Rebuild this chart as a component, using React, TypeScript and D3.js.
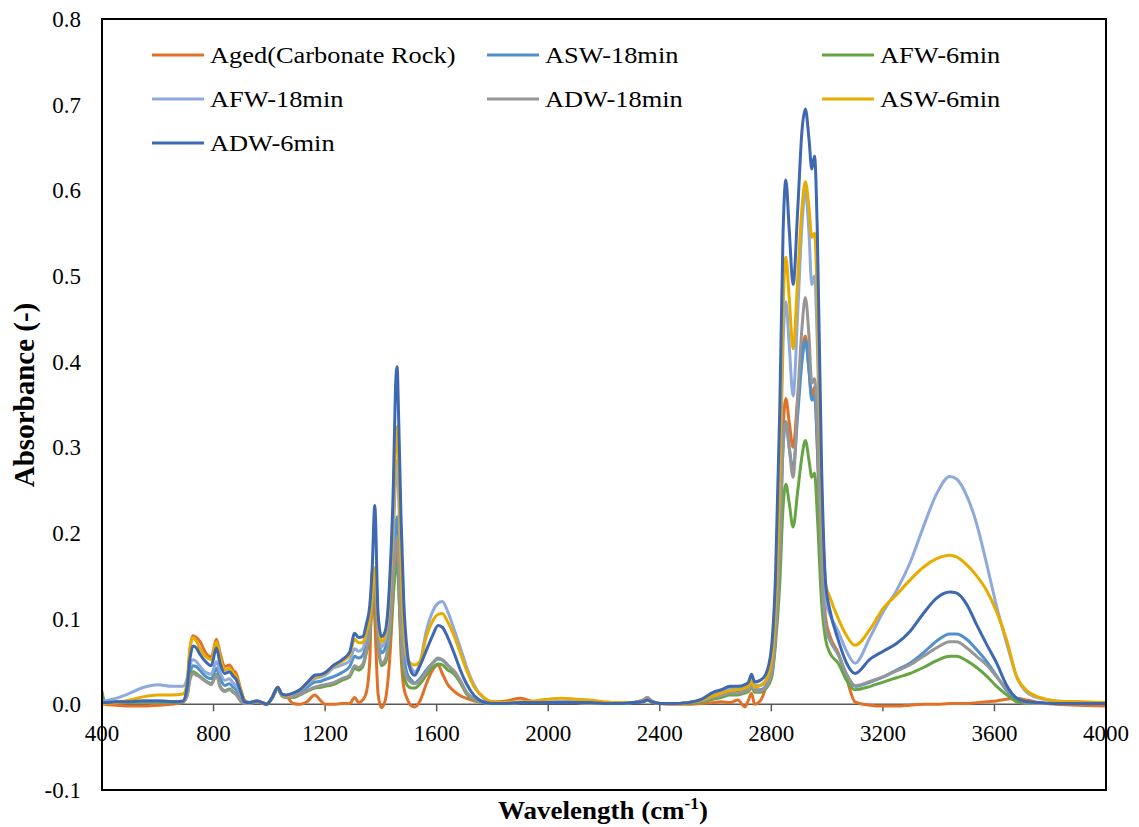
import React from "react";
import * as d3 from "d3";

const wavenumbers = [
  400, 410, 450, 500, 550, 600, 650, 690, 705, 715,
  726, 738, 750, 774, 792, 810, 824, 840, 857, 870,
  881, 899, 911, 930, 955, 975, 990, 1010, 1030, 1045,
  1060, 1085, 1110, 1135, 1163, 1185, 1200, 1228, 1260, 1288,
  1306, 1320, 1335, 1348, 1360, 1369, 1378, 1390, 1402, 1415,
  1431, 1445, 1452, 1458, 1464, 1472, 1482, 1495, 1510, 1521,
  1540, 1563, 1585, 1605, 1620, 1640, 1660, 1685, 1707, 1735,
  1766, 1800, 1850, 1900, 1950, 2000, 2050, 2100, 2150, 2200,
  2250, 2300, 2340, 2355, 2370, 2400, 2450, 2500, 2550, 2591,
  2620, 2652, 2680, 2705, 2718, 2729, 2740, 2760, 2780, 2800,
  2815, 2830, 2842, 2852, 2864, 2878, 2895, 2910, 2922, 2935,
  2945, 2955, 2965, 2980, 2995, 3010, 3040, 3070, 3100, 3155,
  3201, 3249, 3297, 3345, 3393, 3440, 3464, 3500, 3536, 3572,
  3608, 3644, 3680, 3716, 3763, 3820, 3900, 4000,
];

const agedCarbonate = [
  0.001, 0.0, -0.001, -0.002, -0.002, -0.001, 0.0, 0.002, 0.02, 0.063,
  0.08, 0.078, 0.074, 0.059, 0.055, 0.076, 0.059, 0.044, 0.046, 0.04,
  0.036, 0.016, 0.005, 0.001, 0.003, 0.001, 0.0, 0.008, 0.02, 0.012,
  0.01, 0.001, 0.0, 0.003, 0.011, 0.004, 0.0, 0.0, 0.001, 0.001,
  0.008, 0.002, 0.005, 0.014, 0.05, 0.155, 0.1, 0.012, -0.004, 0.004,
  0.05, 0.13, 0.17, 0.18, 0.14, 0.06, 0.02, 0.006, -0.002, -0.003,
  0.004, 0.024, 0.04, 0.046, 0.036, 0.023, 0.016, 0.01, 0.007, 0.004,
  0.003, 0.003, 0.004, 0.007, 0.003, 0.002, 0.003, 0.003, 0.002, 0.001,
  0.001, 0.002, 0.005, 0.008, 0.004, 0.001, 0.0, 0.0, 0.001, 0.002,
  0.003, 0.002, 0.005, -0.003, 0.005, 0.013, 0.0, 0.004, 0.02, 0.05,
  0.09, 0.2, 0.32, 0.357, 0.33, 0.3, 0.36, 0.41, 0.43, 0.39,
  0.36, 0.37, 0.3, 0.16, 0.1, 0.08, 0.06, 0.03, 0.003, -0.001,
  -0.002, -0.002, -0.001, 0.0, 0.0, 0.001, 0.001, 0.001, 0.002, 0.003,
  0.004, 0.006, 0.007, 0.005, 0.002, 0.0, -0.001, -0.002,
];

const asw18 = [
  0.002, 0.002, 0.003, 0.003, 0.004, 0.004, 0.003, 0.003, 0.012, 0.035,
  0.045, 0.044, 0.04, 0.032, 0.03, 0.042, 0.03, 0.022, 0.024, 0.02,
  0.017, 0.007, 0.002, 0.002, 0.004, 0.002, 0.0, 0.008, 0.019, 0.011,
  0.009, 0.011, 0.014, 0.02, 0.026, 0.027, 0.029, 0.032, 0.037, 0.044,
  0.056, 0.054, 0.057, 0.071, 0.09, 0.125, 0.15, 0.085, 0.06, 0.065,
  0.1, 0.165, 0.205, 0.219, 0.18, 0.11, 0.06, 0.035, 0.028, 0.025,
  0.03, 0.04, 0.048, 0.053, 0.052, 0.046, 0.038, 0.026, 0.014, 0.006,
  0.002, 0.001, 0.001, 0.002, 0.002, 0.002, 0.002, 0.002, 0.001, 0.001,
  0.001, 0.002, 0.004, 0.007, 0.004, 0.001, 0.001, 0.002, 0.004, 0.009,
  0.011, 0.014, 0.014, 0.016, 0.018, 0.024, 0.017, 0.017, 0.021, 0.032,
  0.08, 0.18, 0.3, 0.33, 0.3, 0.275, 0.34, 0.4, 0.425, 0.39,
  0.355, 0.36, 0.3, 0.15, 0.09, 0.075, 0.058, 0.035, 0.021, 0.026,
  0.032, 0.04, 0.048, 0.06, 0.074, 0.082, 0.082, 0.076, 0.064, 0.05,
  0.033, 0.016, 0.005, 0.002, 0.001, 0.001, 0.001, 0.001,
];

const afw6 = [
  0.015, 0.003, 0.002, 0.002, 0.002, 0.002, 0.002, 0.003, 0.01, 0.03,
  0.038, 0.036, 0.033, 0.027, 0.024, 0.035, 0.021, 0.016, 0.018, 0.015,
  0.012, 0.004, 0.001, 0.001, 0.003, 0.002, 0.0, 0.007, 0.018, 0.01,
  0.008, 0.008, 0.011, 0.015, 0.019, 0.02, 0.021, 0.023, 0.028, 0.032,
  0.042, 0.04, 0.044, 0.06, 0.08, 0.115, 0.14, 0.07, 0.045, 0.048,
  0.075, 0.13, 0.158, 0.164, 0.135, 0.075, 0.035, 0.022, 0.019, 0.019,
  0.024, 0.034, 0.043, 0.047, 0.046, 0.04, 0.036, 0.025, 0.012, 0.005,
  0.002, 0.001, 0.001, 0.002, 0.002, 0.002, 0.002, 0.002, 0.001, 0.001,
  0.001, 0.002, 0.004, 0.006, 0.003, 0.001, 0.001, 0.001, 0.003, 0.006,
  0.008, 0.011, 0.011, 0.013, 0.015, 0.02, 0.014, 0.014, 0.018, 0.03,
  0.07, 0.14, 0.23, 0.257, 0.235, 0.207, 0.25, 0.29, 0.308, 0.285,
  0.265, 0.27, 0.22, 0.12, 0.075, 0.06, 0.048, 0.028, 0.017, 0.021,
  0.026, 0.031, 0.036, 0.043, 0.051, 0.056, 0.056, 0.051, 0.043, 0.033,
  0.021, 0.011, 0.003, 0.001, 0.001, 0.001, 0.001, 0.001,
];

const afw18 = [
  0.003, 0.004, 0.007, 0.013, 0.02, 0.023, 0.021, 0.021, 0.03, 0.045,
  0.052, 0.05, 0.045, 0.037, 0.035, 0.05, 0.037, 0.028, 0.03, 0.025,
  0.022, 0.01, 0.003, 0.002, 0.004, 0.002, 0.0, 0.008, 0.019, 0.012,
  0.01, 0.012, 0.016, 0.023, 0.03, 0.032, 0.034, 0.042, 0.046, 0.051,
  0.065, 0.062, 0.065, 0.08, 0.1, 0.13, 0.15, 0.09, 0.067, 0.075,
  0.12, 0.2, 0.26, 0.285, 0.24, 0.15, 0.08, 0.05, 0.042, 0.038,
  0.048, 0.086, 0.108, 0.118, 0.12, 0.108, 0.09, 0.066, 0.044, 0.022,
  0.008, 0.002, 0.001, 0.002, 0.002, 0.003, 0.003, 0.003, 0.002, 0.002,
  0.001, 0.002, 0.003, 0.005, 0.003, 0.001, 0.001, 0.002, 0.005, 0.012,
  0.015, 0.019, 0.019, 0.021, 0.023, 0.03, 0.022, 0.022, 0.027, 0.045,
  0.11, 0.25, 0.42, 0.47, 0.42, 0.36, 0.46, 0.56, 0.6, 0.55,
  0.49, 0.5, 0.42, 0.22, 0.12, 0.105, 0.085, 0.062, 0.048, 0.079,
  0.108, 0.133, 0.165, 0.207, 0.246, 0.266, 0.263, 0.244, 0.211, 0.164,
  0.114, 0.071, 0.032, 0.014, 0.007, 0.004, 0.003, 0.001,
];

const adw18 = [
  0.002, 0.002, 0.002, 0.003, 0.003, 0.003, 0.003, 0.003, 0.01, 0.028,
  0.036, 0.034, 0.032, 0.026, 0.023, 0.034, 0.02, 0.015, 0.017, 0.014,
  0.011, 0.003, 0.001, 0.001, 0.003, 0.002, 0.0, 0.007, 0.018, 0.01,
  0.008, 0.009, 0.012, 0.016, 0.02, 0.022, 0.023, 0.025, 0.03, 0.034,
  0.045, 0.043, 0.047, 0.063, 0.085, 0.12, 0.145, 0.075, 0.048, 0.052,
  0.085, 0.15, 0.185, 0.195, 0.16, 0.09, 0.045, 0.03, 0.025, 0.024,
  0.028, 0.038, 0.048, 0.054, 0.052, 0.045, 0.04, 0.028, 0.014, 0.006,
  0.002, 0.001, 0.001, 0.002, 0.002, 0.002, 0.002, 0.002, 0.001, 0.001,
  0.001, 0.002, 0.005, 0.008, 0.004, 0.001, 0.001, 0.002, 0.004, 0.008,
  0.01, 0.013, 0.013, 0.015, 0.017, 0.022, 0.016, 0.016, 0.02, 0.035,
  0.08, 0.18, 0.3, 0.33, 0.3, 0.265, 0.36, 0.44, 0.475, 0.43,
  0.375, 0.38, 0.32, 0.16, 0.09, 0.075, 0.058, 0.035, 0.022, 0.027,
  0.032, 0.039, 0.046, 0.056, 0.066, 0.073, 0.073, 0.066, 0.056, 0.046,
  0.032, 0.018, 0.007, 0.002, 0.001, 0.001, 0.001, 0.001,
];

const asw6 = [
  0.0, 0.001, 0.002, 0.005, 0.009, 0.011, 0.011, 0.012, 0.025, 0.065,
  0.078, 0.074, 0.066, 0.055, 0.052, 0.073, 0.055, 0.04, 0.042, 0.037,
  0.032, 0.015, 0.004, 0.002, 0.004, 0.002, 0.001, 0.008, 0.02, 0.012,
  0.01, 0.013, 0.017, 0.025, 0.032, 0.034, 0.036, 0.044, 0.05, 0.058,
  0.076, 0.072, 0.072, 0.085, 0.1, 0.13, 0.16, 0.1, 0.073, 0.08,
  0.13, 0.23, 0.3, 0.324, 0.27, 0.17, 0.09, 0.055, 0.047, 0.046,
  0.05, 0.079, 0.097, 0.105, 0.106, 0.096, 0.082, 0.06, 0.04, 0.02,
  0.009, 0.003, 0.002, 0.003, 0.004, 0.006, 0.007, 0.006, 0.005, 0.003,
  0.002, 0.002, 0.003, 0.005, 0.003, 0.001, 0.001, 0.002, 0.005, 0.01,
  0.013, 0.016, 0.017, 0.019, 0.021, 0.028, 0.02, 0.022, 0.028, 0.05,
  0.12, 0.27, 0.46, 0.522, 0.475, 0.415, 0.5, 0.58, 0.61, 0.58,
  0.545, 0.55, 0.47, 0.25, 0.14, 0.125, 0.1, 0.08, 0.069, 0.088,
  0.112, 0.128, 0.145, 0.16, 0.17, 0.174, 0.172, 0.163, 0.15, 0.133,
  0.108, 0.075, 0.032, 0.016, 0.008, 0.004, 0.003, 0.002,
];

const adw6 = [
  0.002, 0.002, 0.003, 0.003, 0.004, 0.004, 0.003, 0.004, 0.02, 0.052,
  0.068, 0.066, 0.059, 0.049, 0.045, 0.066, 0.047, 0.036, 0.038, 0.033,
  0.029, 0.013, 0.003, 0.002, 0.004, 0.002, 0.0, 0.008, 0.02, 0.012,
  0.011, 0.013, 0.017, 0.025, 0.034, 0.035, 0.037, 0.045, 0.052, 0.061,
  0.083, 0.078, 0.079, 0.094, 0.115, 0.16, 0.232, 0.105, 0.079, 0.085,
  0.141, 0.26, 0.365, 0.394, 0.33, 0.22, 0.12, 0.06, 0.037, 0.034,
  0.045, 0.063, 0.08, 0.092, 0.09, 0.078, 0.062, 0.04, 0.024, 0.01,
  0.003, 0.001, 0.001, 0.002, 0.002, 0.002, 0.002, 0.002, 0.002, 0.001,
  0.001, 0.002, 0.003, 0.005, 0.003, 0.001, 0.001, 0.002, 0.006, 0.014,
  0.017, 0.021, 0.021, 0.023, 0.026, 0.035, 0.026, 0.028, 0.035, 0.065,
  0.15, 0.34, 0.55, 0.612, 0.555, 0.49, 0.58, 0.67, 0.695, 0.66,
  0.625, 0.64, 0.55, 0.28, 0.14, 0.11, 0.075, 0.048, 0.036, 0.053,
  0.062, 0.071, 0.085, 0.106, 0.124, 0.131, 0.13, 0.117, 0.093, 0.07,
  0.048, 0.022, 0.007, 0.003, 0.002, 0.001, 0.001, 0.001,
];

const seriesNames = [
  "Aged(Carbonate Rock)",
  "ASW-18min",
  "AFW-6min",
  "AFW-18min",
  "ADW-18min",
  "ASW-6min",
  "ADW-6min",
];
const seriesValues = [agedCarbonate, asw18, afw6, afw18, adw18, asw6, adw6];
const seriesColors = [
  "#E07128",
  "#5090CC",
  "#67A544",
  "#8EA9DB",
  "#969696",
  "#E8AC00",
  "#3E68B2",
];

const xTicks = [400, 800, 1200, 1600, 2000, 2400, 2800, 3200, 3600, 4000];
const yTicks = [-0.1, 0, 0.1, 0.2, 0.3, 0.4, 0.5, 0.6, 0.7, 0.8];

const W = 1139;
const H = 827;
const left = 102;
const right = 1106;
const top = 19;
const bottom = 790;

const FONT = "Liberation Serif, Times New Roman, Times, serif";

export default function App() {
  const x = d3.scaleLinear().domain([400, 4000]).range([left, right]);
  const y = d3.scaleLinear().domain([-0.1, 0.8]).range([bottom, top]);
  const line = d3
    .line<number>()
    .x((_, i) => x(wavenumbers[i]))
    .y((d) => y(d))
    .curve(d3.curveMonotoneX);

  const ts = { fontFamily: FONT };
  const legendCols = [152, 487, 822];
  const legendRows = [55, 99, 143];

  return (
    <svg
      width={W}
      height={H}
      style={{ position: "absolute", left: 0, top: 0, background: "#fff", fontFamily: FONT }}
    >
      <rect x={0} y={0} width={W} height={H} fill="#fff" />
      <defs>
        <clipPath id="plot">
          <rect x={left} y={top} width={right - left} height={bottom - top} />
        </clipPath>
      </defs>
      <line x1={left} x2={right} y1={y(0)} y2={y(0)} stroke="#595959" strokeWidth={1.5} />
      {xTicks.map((t) => (
        <line key={t} x1={x(t)} x2={x(t)} y1={y(0)} y2={y(0) + 7} stroke="#595959" strokeWidth={1.5} />
      ))}
      <g clipPath="url(#plot)">
        {seriesValues.map((vals, i) => (
          <path
            key={seriesNames[i]}
            d={line(vals) || ""}
            fill="none"
            stroke={seriesColors[i]}
            strokeWidth={3}
            strokeLinejoin="round"
            strokeLinecap="round"
          />
        ))}
      </g>
      <rect x={left} y={top} width={right - left} height={bottom - top} fill="none" stroke="#000" strokeWidth={2} />
      {xTicks.map((t) => (
        <text key={t} x={x(t)} y={741} textAnchor="middle" fontSize={23} fill="#000" style={ts}>
          {t}
        </text>
      ))}
      {yTicks.map((t) => (
        <text key={t} x={81} y={y(t) + 8} textAnchor="end" fontSize={23} fill="#000" style={ts}>
          {d3.format(".1f")(t).replace("\u2212", "-")}
        </text>
      ))}
      {seriesNames.map((name, i) => {
        const cx = legendCols[i % 3];
        const cy = legendRows[Math.floor(i / 3)];
        return (
          <g key={name}>
            <line x1={cx} x2={cx + 52} y1={cy} y2={cy} stroke={seriesColors[i]} strokeWidth={3} />
            <text
              transform={`translate(${cx + 58},${cy + 8}) scale(1.1,1)`}
              fontSize={24}
              fill="#000"
              style={ts}
            >
              {name}
            </text>
          </g>
        );
      })}
      <text
        transform="translate(603,819) scale(1.08,1)"
        textAnchor="middle"
        fontSize={25}
        fontWeight="bold"
        fill="#000"
        style={ts}
      >
        Wavelength (cm
        <tspan fontSize={16} dy={-10}>-1</tspan>
        <tspan dy={10}>)</tspan>
      </text>
      <text
        transform={`translate(34,395) rotate(-90)`}
        textAnchor="middle"
        fontSize={29}
        fontWeight="bold"
        fill="#000"
        style={ts}
      >
        Absorbance (-)
      </text>
    </svg>
  );
}
